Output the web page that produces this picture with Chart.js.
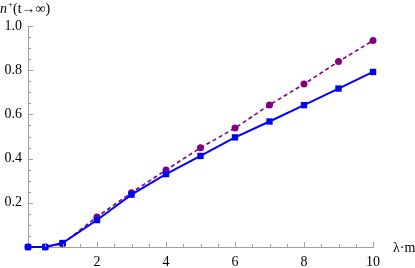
<!DOCTYPE html>
<html><head><meta charset="utf-8">
<script src="https://cdn.jsdelivr.net/npm/chart.js@4/dist/chart.umd.min.js"></script>
<style>html,body{margin:0;padding:0;background:#fff}#w{width:415px;height:268px}</style>
</head><body><div id="w"><canvas id="c"></canvas></div>
<script>
const xValues = [0, 0.5, 1, 2, 3, 4, 5, 6, 7, 8, 9, 10];
const seriesPurple = [0, 0, 0.015, 0.136, 0.246, 0.348, 0.449, 0.538, 0.643, 0.737, 0.839, 0.934];
const seriesBlue = [0, 0, 0.018, 0.122, 0.237, 0.330, 0.412, 0.496, 0.568, 0.642, 0.717, 0.792];
const xTickLabels = [2, 4, 6, 8, 10];
const yTickLabels = [0.2, 0.4, 0.6, 0.8, 1.0];

const serif = "'Liberation Serif', 'DejaVu Serif', serif";
const axisColor = '#a0a0a0';

const ticksPlugin = {
  id: 'mmaTicks',
  afterDraw(chart) {
    const {ctx, scales: {x, y}} = chart;
    const x0 = x.getPixelForValue(0), y0 = y.getPixelForValue(0);
    ctx.save();
    ctx.strokeStyle = axisColor;
    ctx.lineWidth = 1;
    ctx.beginPath();
    for (let i = 1; i <= 20; i++) {
      const v = i * 0.5;
      const px = Math.round(x.getPixelForValue(v)) + 0.5;
      const major = i % 4 === 0;
      ctx.moveTo(px, y0); ctx.lineTo(px, y0 - (major ? 5 : 3));
    }
    for (let i = 1; i <= 20; i++) {
      const v = i * 0.05;
      const py = Math.round(y.getPixelForValue(v)) + 0.5;
      const major = i % 4 === 0;
      ctx.moveTo(x0, py); ctx.lineTo(x0 + (major ? 5 : 3), py);
    }
    ctx.stroke();
    // axis labels
    ctx.fillStyle = '#000';
    ctx.textBaseline = 'alphabetic';
    ctx.font = "italic 14px " + serif;
    ctx.fillText('n', 0, 13);
    ctx.font = "9px " + serif;
    ctx.fillText('+', 8, 7);
    ctx.font = "14px " + serif;
    ctx.fillText('(t→∞)', 13, 13);
    ctx.fillText('λ·m', 393, 252);
    ctx.restore();
  }
};

new Chart(document.getElementById('c'), {
  type: 'line',
  data: {
    datasets: [
      {
        data: xValues.map((v, i) => ({x: v, y: seriesBlue[i]})),
        borderColor: '#0000ff', backgroundColor: '#0000ff',
        borderWidth: 2, pointStyle: 'rect', pointRadius: 4.5,
        pointBorderWidth: 0, tension: 0, clip: false
      },
      {
        data: xValues.map((v, i) => ({x: v, y: seriesPurple[i]})),
        borderColor: '#800080', backgroundColor: '#800080',
        borderWidth: 1.6, borderDash: [4, 3], pointStyle: 'circle', pointRadius: 3.5,
        pointBorderWidth: 0, tension: 0, clip: false
      }
    ]
  },
  options: {
    responsive: true, maintainAspectRatio: false, animation: false,
    layout: {padding: {top: 26, right: 42, left: 0, bottom: 0}},
    plugins: {legend: {display: false}, tooltip: {enabled: false}},
    scales: {
      x: {
        type: 'linear', min: 0, max: 10,
        afterFit: s => { s.height = 21; },
        border: {display: true, color: axisColor, width: 1},
        grid: {display: false, drawTicks: false},
        afterBuildTicks: s => { s.ticks = xTickLabels.map(v => ({value: v})); },
        ticks: {color: '#000', font: {family: serif, size: 14}, padding: 7, maxRotation: 0,
          callback: v => String(v)}
      },
      y: {
        type: 'linear', min: 0, max: 1,
        afterFit: s => { s.width = 28; },
        border: {display: true, color: axisColor, width: 1},
        grid: {display: false, drawTicks: false},
        afterBuildTicks: s => { s.ticks = yTickLabels.map(v => ({value: v})); },
        ticks: {color: '#000', font: {family: serif, size: 14}, padding: 6,
          callback: v => v.toFixed(1)}
      }
    }
  },
  plugins: [ticksPlugin]
});
</script></body></html>
